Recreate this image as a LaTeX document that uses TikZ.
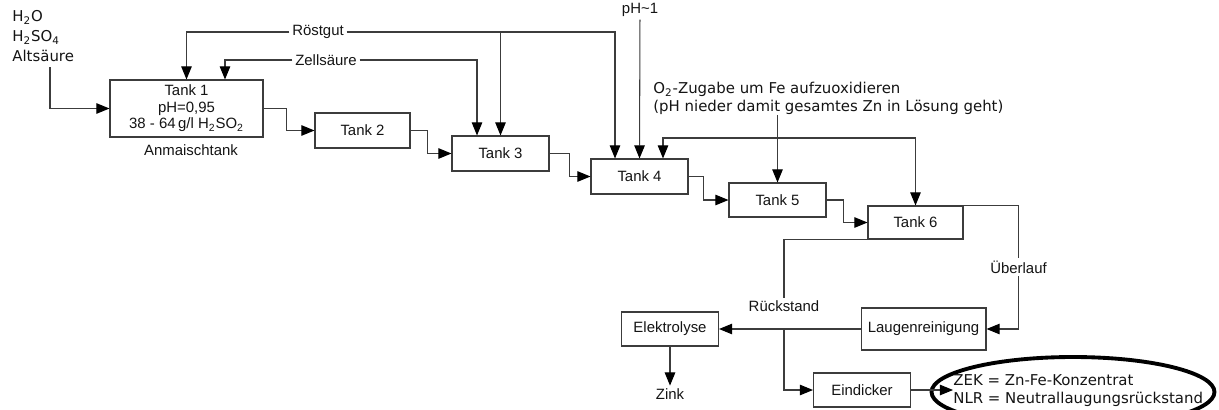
\documentclass[tikz,border=0pt]{standalone}
\usepackage{fontspec}
\setmainfont{Liberation Sans}
\newfontfamily\verdfont{DejaVu Sans}
\usepackage{tikz}
\usetikzlibrary{shapes.geometric,arrows.meta,positioning,calc}
\definecolor{linegray}{RGB}{60,60,60}
\definecolor{textdark}{RGB}{20,20,20}

\begin{document}
\begin{tikzpicture}[x=0.02cm,y=-0.02cm,font=\fontsize{8.5}{9.4}\selectfont,text=textdark]
  \tikzstyle{tank}=[rectangle,draw=linegray,line width=0.6pt,fill=white,minimum width=1.94cm,minimum height=0.7cm,inner sep=1pt,align=center]
  \tikzstyle{flow}=[draw=linegray,line width=0.6pt,-{Triangle[length=7.5pt,width=6pt,color=black]}]
  \tikzstyle{lbl}=[inner sep=1.5pt]
  \tikzstyle{verd}=[inner sep=0pt,align=left,font=\verdfont\fontsize{8.5}{10.2}\selectfont]
  \useasboundingbox (0,0) rectangle (1219,409);
  \clip (0,0) rectangle (1219,409);
  % tanks
  \node[tank,minimum width=3.06cm,minimum height=1.14cm] (t1) at (186.5,108.5) {Tank 1\\pH=0,95\\38 - 64\,g/l H\textsubscript{2}SO\textsubscript{2}};
  \node[lbl] (anm) at (191,150) {Anmaischtank};
  \node[tank,minimum width=1.9cm] (t2) at (362.5,130.5) {Tank 2};
  \node[tank] (t3) at (500.5,153.5) {Tank 3};
  \node[tank] (t4) at (639.5,176.5) {Tank 4};
  \node[tank,minimum height=0.68cm] (t5) at (777.5,200) {Tank 5};
  \node[tank,minimum width=1.9cm,minimum height=0.66cm] (t6) at (915.5,222.5) {Tank 6};
  \node[tank,minimum height=0.68cm] (elek) at (670,329) {Elektrolyse};
  \node[tank,minimum width=2.5cm,minimum height=0.84cm] (laug) at (923.5,329) {Laugenreinigung};
  \node[tank,minimum height=0.68cm] (eind) at (862,390) {Eindicker};
  % labels
  \node[verd,anchor=north west,font=\verdfont\fontsize{8.5}{11.4}\selectfont] (feed) at (12,10) {H\textsubscript{2}O\\H\textsubscript{2}SO\textsubscript{4}\\Alts\"aure};
  \coordinate (feedout) at (50,67);
  \node[lbl] (roest) at (318,32) {R\"ostgut};
  \node[lbl] (zell) at (326,60) {Zells\"aure};
  \node[lbl] (ph) at (640,10) {pH\textasciitilde1};
  \node[verd,anchor=north west] (o2) at (653,82) {O\textsubscript{2}-Zugabe um Fe aufzuoxidieren\\(pH nieder damit gesamtes Zn in L\"osung geht)};
  \coordinate (o2split) at (777.5,138);
  \node[lbl] (rueck) at (784,306) {R\"uckstand};
  \node[lbl] (zink) at (670,394) {Zink};
  \node[draw=black,line width=2.2pt,ellipse,minimum width=5.66cm,minimum height=1.4cm] (ring) at (1073,392) {};
  \node[verd,anchor=west] (zek) at (953,391) {ZEK = Zn-Fe-Konzentrat\\NLR = Neutrallaugungsr\"uckstand};
  % tank chain
  \draw[flow] (feedout) |- (t1.west);
  \draw[flow] (t1.east) -- ++(23,0) |- (t2.west);
  \draw[flow] (t2.east) -- ++(17,0) |- (t3.west);
  \draw[flow] (t3.east) -- ++(20,0) |- (t4.west);
  \draw[flow] (t4.east) -- ++(15,0) |- (t5.west);
  \draw[flow] (t5.east) -- ++(17,0) |- (t6.west);
  % feeds from above
  \draw[flow] (roest.west) -| (t1.north);
  \draw[flow] (roest.east) -| ([xshift=-0.49cm]t4.north);
  \draw[flow] (roest.east -| t3.north) -- (t3.north);
  \draw[flow] (zell.west) -| ([xshift=0.77cm]t1.north);
  \draw[flow] (zell.east) -| ([xshift=-0.47cm]t3.north);
  \draw[flow] (ph) -- (t4.north);
  \draw[flow] (o2.south -| t5.north) -- (t5.north);
  \draw[flow] (o2split) -| ([xshift=0.47cm]t4.north);
  \draw[flow] (o2split) -| (t6.north);
  % outputs
  \draw[flow] (t6.north east) -- ++(55,0) |- node[pos=0.25,lbl,fill=white] (ueber) {\"Uberlauf} (laug.east);
  \draw[draw=linegray,line width=0.6pt] (t6.south west) -| (rueck.north);
  \draw[flow] (laug.west) -- (elek.east);
  \draw[flow] (laug.west -| rueck.north) |- (eind.west);
  \draw[flow] (elek.south) -- (zink.north);
  \draw[flow] (eind.east) -- (eind.east -| zek.west);
\end{tikzpicture}
\end{document}
